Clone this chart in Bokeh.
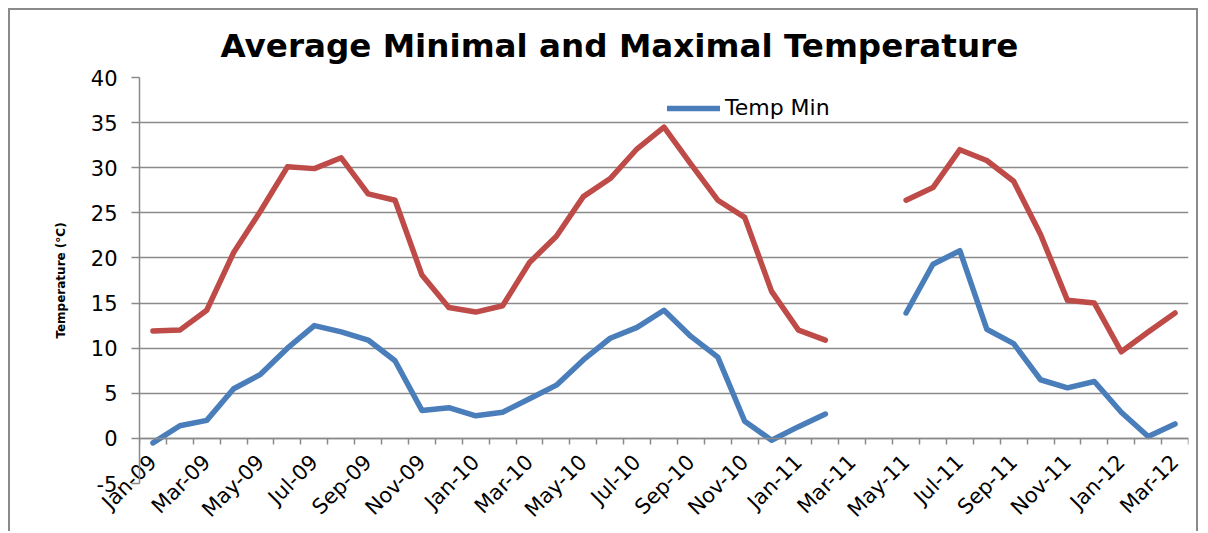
import math
from bokeh.plotting import figure
from bokeh.models import (LinearAxis, FixedTicker, Legend, LegendItem, Range1d,
                          ColumnDataSource)
from bokeh.embed import file_html
from bokeh.resources import INLINE

nan = float("nan")

months = ["Jan-09", "Feb-09", "Mar-09", "Apr-09", "May-09", "Jun-09", "Jul-09", "Aug-09",
          "Sep-09", "Oct-09", "Nov-09", "Dec-09",
          "Jan-10", "Feb-10", "Mar-10", "Apr-10", "May-10", "Jun-10", "Jul-10", "Aug-10",
          "Sep-10", "Oct-10", "Nov-10", "Dec-10",
          "Jan-11", "Feb-11", "Mar-11", "Apr-11", "May-11", "Jun-11", "Jul-11", "Aug-11",
          "Sep-11", "Oct-11", "Nov-11", "Dec-11",
          "Jan-12", "Feb-12", "Mar-12"]

temp_min = [-0.5, 1.4, 2.0, 5.5, 7.1, 10.0, 12.5, 11.8, 10.9, 8.6, 3.1, 3.4,
            2.5, 2.9, 4.4, 5.9, 8.7, 11.1, 12.3, 14.2, 11.3, 9.0, 1.9, -0.2,
            1.3, 2.7, nan, nan, 13.9, 19.3, 20.8, 12.1, 10.5, 6.5, 5.6, 6.3,
            2.9, 0.2, 1.6]

temp_max = [11.9, 12.0, 14.2, 20.6, 25.2, 30.1, 29.9, 31.1, 27.1, 26.4, 18.1, 14.5,
            14.0, 14.7, 19.5, 22.4, 26.8, 28.8, 32.1, 34.5, 30.4, 26.4, 24.5, 16.3,
            12.0, 10.9, nan, nan, 26.4, 27.8, 32.0, 30.8, 28.5, 22.6, 15.3, 15.0,
            9.6, 11.8, 13.9]

y_ticks = [-5, 0, 5, 10, 15, 20, 25, 30, 35, 40]
y_tick_labels = ["-5", "0", "5", "10", "15", "20", "25", "30", "35", "40"]

idx = list(range(len(months)))
src = ColumnDataSource(data=dict(x=idx, tmin=temp_min, tmax=temp_max))

GRID = "#8a8a8a"

p = figure(width=1190, height=523,
           x_range=Range1d(-0.5, len(months) - 0.5), y_range=Range1d(-5, 40),
           output_backend="svg", toolbar_location=None,
           x_axis_location=None,
           min_border_left=129, min_border_right=12, min_border_top=67, min_border_bottom=50)

p.styles = {"margin-left": "8px", "margin-top": "8px",
            "border-top": "2px solid #8a8a8a", "border-left": "2px solid #8a8a8a",
            "border-right": "2px solid #8a8a8a"}

p.outline_line_color = None
p.background_fill_color = "white"
p.border_fill_color = "white"

# title
p.title.text = "Average Minimal and Maximal Temperature"
p.title.text_font = "DejaVu Sans"
p.title.text_font_size = "32.6px"
p.title.text_font_style = "bold"
p.title.text_color = "black"
p.title.align = "left"
p.title.offset = 81
p.title.standoff = 26

# y axis
yax = p.yaxis[0]
yax.ticker = FixedTicker(ticks=y_ticks)
yax.major_label_overrides = dict(zip(y_ticks, y_tick_labels))
yax.major_label_text_font = "DejaVu Sans"
yax.major_label_text_font_size = "21px"
yax.major_label_text_color = "black"
yax.axis_line_color = GRID
yax.axis_line_width = 1.5
yax.major_tick_line_color = GRID
yax.major_tick_line_width = 1.5
yax.major_tick_out = 8
yax.major_tick_in = 0
yax.minor_tick_line_color = None
yax.major_label_standoff = 14
yax.axis_label = "Temperature (°C)"
yax.axis_label_text_font = "DejaVu Sans"
yax.axis_label_text_font_size = "12px"
yax.axis_label_text_font_style = "bold"
yax.axis_label_text_color = "black"
yax.axis_label_standoff = 20

p.ygrid.ticker = FixedTicker(ticks=y_ticks)
p.ygrid.grid_line_color = GRID
p.ygrid.grid_line_width = 1.5
p.xgrid.grid_line_color = None

# category-boundary tick axis at y = 0
tick_axis = LinearAxis(fixed_location=0,
                       ticker=FixedTicker(ticks=[i - 0.5 for i in range(len(months) + 1)]),
                       axis_line_color=GRID, axis_line_width=1.5,
                       major_tick_line_color=GRID, major_tick_line_width=1.5,
                       major_tick_out=6, major_tick_in=0,
                       minor_tick_line_color=None,
                       major_label_text_color=None)
p.add_layout(tick_axis, "below")

# category labels: pulled up so they hang just under the zero line, as in the reference
lab_ticks = list(range(0, len(months), 2))
label_axis = LinearAxis(ticker=FixedTicker(ticks=lab_ticks),
                        major_label_overrides={i: months[i] for i in lab_ticks},
                        major_label_orientation=math.pi / 4,
                        major_label_text_font="DejaVu Sans",
                        major_label_text_font_size="21px",
                        major_label_text_color="black",
                        major_label_standoff=-25,
                        axis_line_color=None,
                        major_tick_line_color=None,
                        major_tick_out=0, major_tick_in=0,
                        minor_tick_line_color=None)
p.add_layout(label_axis, "below")

r_max = p.line(x="x", y="tmax", source=src, line_color="#BE4B48", line_width=5.5,
               line_join="round", line_cap="round")
r_min = p.line(x="x", y="tmin", source=src, line_color="#4A7EBB", line_width=5.5,
               line_join="round", line_cap="round")

legend = Legend(items=[LegendItem(label="Temp Min", renderers=[r_min])],
                location=(528, 363), padding=0, margin=0, spacing=0,
                glyph_width=53, glyph_height=22, label_standoff=5,
                label_text_font="DejaVu Sans", label_text_font_size="22px",
                label_text_color="black",
                border_line_color=None, background_fill_alpha=0)
p.add_layout(legend)

open("out.html", "w").write(file_html(p, INLINE))
